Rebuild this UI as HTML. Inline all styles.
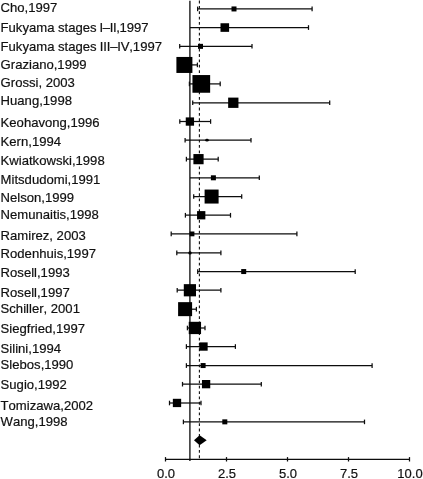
<!DOCTYPE html>
<html><head><meta charset="utf-8"><title>Forest plot</title>
<style>
html,body{margin:0;padding:0;background:#fff;}
svg{display:block;}
text{font-kerning:none;font-family:"Liberation Sans",Arial,Helvetica,sans-serif;fill:#111;stroke:#111;stroke-width:0.2px;}
.lab{font-size:13.1px;}
.ax{font-size:13px;}
</style></head><body>
<svg width="423" height="479" viewBox="0 0 423 479">
<rect width="423" height="479" fill="#fff"/>

<text class="lab" x="0.6" y="12.0">Cho,1997</text>
<text class="lab" x="0.6" y="31.8">Fukyama stages <tspan dx="-0.7" letter-spacing="-0.4">I–II,</tspan>1997</text>
<text class="lab" x="0.6" y="50.9">Fukyama stages <tspan dx="-0.6" letter-spacing="-0.15">III–IV,</tspan>1997</text>
<text class="lab" x="0.6" y="69.2">Graziano,1999</text>
<text class="lab" x="0.6" y="87.2">Grossi, 2003</text>
<text class="lab" x="0.6" y="105.3">Huang,1998</text>
<text class="lab" x="0.6" y="126.8">Keohavong,1996</text>
<text class="lab" x="0.6" y="145.9">Kern,1994</text>
<text class="lab" x="0.6" y="165.2">Kwiatkowski,1998</text>
<text class="lab" x="0.6" y="183.9">Mitsdudomi,1991</text>
<text class="lab" x="0.6" y="201.7">Nelson,1999</text>
<text class="lab" x="0.6" y="219.3">Nemunaitis,1998</text>
<text class="lab" x="0.6" y="239.6">Ramirez, 2003</text>
<text class="lab" x="0.6" y="258.1">Rodenhuis,1997</text>
<text class="lab" x="0.6" y="276.7">Rosell,1993</text>
<text class="lab" x="0.6" y="296.7">Rosell,1997</text>
<text class="lab" x="0.6" y="313.0">Schiller, 2001</text>
<text class="lab" x="0.6" y="332.8">Siegfried,1997</text>
<text class="lab" x="0.6" y="352.8">Silini,1994</text>
<text class="lab" x="0.6" y="368.6">Slebos,1990</text>
<text class="lab" x="0.6" y="388.7">Sugio,1992</text>
<text class="lab" x="0.6" y="409.7">Tomizawa,2002</text>
<text class="lab" x="0.6" y="425.5">Wang,1998</text>
<line x1="189.9" y1="0.8" x2="189.9" y2="461" stroke="#2a2a2a" stroke-width="1.5"/>
<line x1="199.4" y1="0.6" x2="199.4" y2="459.3" stroke="#111" stroke-width="1.1" stroke-dasharray="2.8,2.55"/>
<line x1="197.6" y1="8.9" x2="312.1" y2="8.9" stroke="#0d0d0d" stroke-width="1.25"/>
<line x1="197.6" y1="6.6" x2="197.6" y2="11.2" stroke="#0d0d0d" stroke-width="1.25"/>
<line x1="312.1" y1="6.6" x2="312.1" y2="11.2" stroke="#0d0d0d" stroke-width="1.25"/>
<rect x="231.50" y="6.45" width="5.0" height="5.0" fill="#000"/>
<line x1="190.0" y1="27.6" x2="308.5" y2="27.6" stroke="#0d0d0d" stroke-width="1.25"/>
<line x1="308.5" y1="25.2" x2="308.5" y2="29.9" stroke="#0d0d0d" stroke-width="1.25"/>
<rect x="220.50" y="23.25" width="8.6" height="8.6" fill="#000"/>
<line x1="179.7" y1="46.4" x2="252.0" y2="46.4" stroke="#0d0d0d" stroke-width="1.25"/>
<line x1="179.7" y1="44.1" x2="179.7" y2="48.6" stroke="#0d0d0d" stroke-width="1.25"/>
<line x1="252.0" y1="44.1" x2="252.0" y2="48.6" stroke="#0d0d0d" stroke-width="1.25"/>
<rect x="198.00" y="43.85" width="5.0" height="5.0" fill="#000"/>
<line x1="180.0" y1="64.9" x2="197.4" y2="64.9" stroke="#0d0d0d" stroke-width="1.25"/>
<line x1="197.4" y1="62.6" x2="197.4" y2="67.2" stroke="#0d0d0d" stroke-width="1.25"/>
<rect x="176.40" y="56.95" width="16.0" height="16.0" fill="#000"/>
<line x1="189.4" y1="83.9" x2="220.2" y2="83.9" stroke="#0d0d0d" stroke-width="1.25"/>
<line x1="189.4" y1="81.6" x2="189.4" y2="86.2" stroke="#0d0d0d" stroke-width="1.25"/>
<line x1="220.2" y1="81.6" x2="220.2" y2="86.2" stroke="#0d0d0d" stroke-width="1.25"/>
<rect x="192.45" y="75.05" width="17.7" height="17.7" fill="#000"/>
<line x1="192.7" y1="102.8" x2="329.7" y2="102.8" stroke="#0d0d0d" stroke-width="1.25"/>
<line x1="192.7" y1="100.5" x2="192.7" y2="105.0" stroke="#0d0d0d" stroke-width="1.25"/>
<line x1="329.7" y1="100.5" x2="329.7" y2="105.0" stroke="#0d0d0d" stroke-width="1.25"/>
<rect x="228.15" y="97.60" width="10.3" height="10.3" fill="#000"/>
<line x1="179.8" y1="121.5" x2="210.6" y2="121.5" stroke="#0d0d0d" stroke-width="1.25"/>
<line x1="179.8" y1="119.2" x2="179.8" y2="123.8" stroke="#0d0d0d" stroke-width="1.25"/>
<line x1="210.6" y1="119.2" x2="210.6" y2="123.8" stroke="#0d0d0d" stroke-width="1.25"/>
<rect x="185.75" y="117.40" width="8.3" height="8.3" fill="#000"/>
<line x1="185.1" y1="140.2" x2="251.0" y2="140.2" stroke="#0d0d0d" stroke-width="1.25"/>
<line x1="185.1" y1="137.9" x2="185.1" y2="142.6" stroke="#0d0d0d" stroke-width="1.25"/>
<line x1="251.0" y1="137.9" x2="251.0" y2="142.6" stroke="#0d0d0d" stroke-width="1.25"/>
<ellipse cx="207.0" cy="140.2" rx="1.80" ry="1.40" fill="#000"/>
<line x1="186.4" y1="159.2" x2="218.2" y2="159.2" stroke="#0d0d0d" stroke-width="1.25"/>
<line x1="186.4" y1="156.8" x2="186.4" y2="161.5" stroke="#0d0d0d" stroke-width="1.25"/>
<line x1="218.2" y1="156.8" x2="218.2" y2="161.5" stroke="#0d0d0d" stroke-width="1.25"/>
<rect x="193.40" y="154.05" width="10.2" height="10.2" fill="#000"/>
<line x1="190.0" y1="177.8" x2="259.3" y2="177.8" stroke="#0d0d0d" stroke-width="1.25"/>
<line x1="259.3" y1="175.5" x2="259.3" y2="180.1" stroke="#0d0d0d" stroke-width="1.25"/>
<rect x="210.90" y="175.30" width="5.0" height="5.0" fill="#000"/>
<line x1="193.7" y1="196.5" x2="241.7" y2="196.5" stroke="#0d0d0d" stroke-width="1.25"/>
<line x1="193.7" y1="194.2" x2="193.7" y2="198.8" stroke="#0d0d0d" stroke-width="1.25"/>
<line x1="241.7" y1="194.2" x2="241.7" y2="198.8" stroke="#0d0d0d" stroke-width="1.25"/>
<rect x="204.60" y="189.55" width="14.0" height="14.0" fill="#000"/>
<line x1="185.4" y1="215.2" x2="230.5" y2="215.2" stroke="#0d0d0d" stroke-width="1.25"/>
<line x1="185.4" y1="212.9" x2="185.4" y2="217.6" stroke="#0d0d0d" stroke-width="1.25"/>
<line x1="230.5" y1="212.9" x2="230.5" y2="217.6" stroke="#0d0d0d" stroke-width="1.25"/>
<rect x="197.05" y="211.10" width="8.3" height="8.3" fill="#000"/>
<line x1="171.2" y1="233.9" x2="296.9" y2="233.9" stroke="#0d0d0d" stroke-width="1.25"/>
<line x1="171.2" y1="231.6" x2="171.2" y2="236.2" stroke="#0d0d0d" stroke-width="1.25"/>
<line x1="296.9" y1="231.6" x2="296.9" y2="236.2" stroke="#0d0d0d" stroke-width="1.25"/>
<rect x="189.60" y="231.50" width="4.8" height="4.8" fill="#000"/>
<line x1="176.8" y1="252.9" x2="220.9" y2="252.9" stroke="#0d0d0d" stroke-width="1.25"/>
<line x1="176.8" y1="250.6" x2="176.8" y2="255.2" stroke="#0d0d0d" stroke-width="1.25"/>
<line x1="220.9" y1="250.6" x2="220.9" y2="255.2" stroke="#0d0d0d" stroke-width="1.25"/>
<ellipse cx="190.0" cy="252.9" rx="1.70" ry="1.70" fill="#000"/>
<line x1="197.7" y1="271.6" x2="355.2" y2="271.6" stroke="#0d0d0d" stroke-width="1.25"/>
<line x1="197.7" y1="269.2" x2="197.7" y2="273.9" stroke="#0d0d0d" stroke-width="1.25"/>
<line x1="355.2" y1="269.2" x2="355.2" y2="273.9" stroke="#0d0d0d" stroke-width="1.25"/>
<rect x="241.20" y="269.05" width="5.0" height="5.0" fill="#000"/>
<line x1="177.2" y1="290.2" x2="220.9" y2="290.2" stroke="#0d0d0d" stroke-width="1.25"/>
<line x1="177.2" y1="287.9" x2="177.2" y2="292.6" stroke="#0d0d0d" stroke-width="1.25"/>
<line x1="220.9" y1="287.9" x2="220.9" y2="292.6" stroke="#0d0d0d" stroke-width="1.25"/>
<rect x="183.80" y="284.15" width="12.2" height="12.2" fill="#000"/>
<line x1="182.0" y1="309.2" x2="196.4" y2="309.2" stroke="#0d0d0d" stroke-width="1.25"/>
<line x1="196.4" y1="306.9" x2="196.4" y2="311.5" stroke="#0d0d0d" stroke-width="1.25"/>
<rect x="178.10" y="302.15" width="14.0" height="14.0" fill="#000"/>
<line x1="187.4" y1="328.0" x2="205.0" y2="328.0" stroke="#0d0d0d" stroke-width="1.25"/>
<line x1="187.4" y1="325.7" x2="187.4" y2="330.3" stroke="#0d0d0d" stroke-width="1.25"/>
<line x1="205.0" y1="325.7" x2="205.0" y2="330.3" stroke="#0d0d0d" stroke-width="1.25"/>
<rect x="188.75" y="321.80" width="12.3" height="12.3" fill="#000"/>
<line x1="186.4" y1="346.6" x2="235.4" y2="346.6" stroke="#0d0d0d" stroke-width="1.25"/>
<line x1="186.4" y1="344.2" x2="186.4" y2="348.9" stroke="#0d0d0d" stroke-width="1.25"/>
<line x1="235.4" y1="344.2" x2="235.4" y2="348.9" stroke="#0d0d0d" stroke-width="1.25"/>
<rect x="199.35" y="342.40" width="8.3" height="8.3" fill="#000"/>
<line x1="186.4" y1="365.6" x2="372.1" y2="365.6" stroke="#0d0d0d" stroke-width="1.25"/>
<line x1="186.4" y1="363.2" x2="186.4" y2="367.9" stroke="#0d0d0d" stroke-width="1.25"/>
<line x1="372.1" y1="363.2" x2="372.1" y2="367.9" stroke="#0d0d0d" stroke-width="1.25"/>
<rect x="200.60" y="363.05" width="5.0" height="5.0" fill="#000"/>
<line x1="182.5" y1="384.2" x2="261.3" y2="384.2" stroke="#0d0d0d" stroke-width="1.25"/>
<line x1="182.5" y1="381.9" x2="182.5" y2="386.5" stroke="#0d0d0d" stroke-width="1.25"/>
<line x1="261.3" y1="381.9" x2="261.3" y2="386.5" stroke="#0d0d0d" stroke-width="1.25"/>
<rect x="201.95" y="380.00" width="8.3" height="8.3" fill="#000"/>
<line x1="169.5" y1="403.0" x2="201.0" y2="403.0" stroke="#0d0d0d" stroke-width="1.25"/>
<line x1="169.5" y1="400.7" x2="169.5" y2="405.3" stroke="#0d0d0d" stroke-width="1.25"/>
<line x1="201.0" y1="400.7" x2="201.0" y2="405.3" stroke="#0d0d0d" stroke-width="1.25"/>
<rect x="172.85" y="398.80" width="8.3" height="8.3" fill="#000"/>
<line x1="183.4" y1="421.9" x2="364.5" y2="421.9" stroke="#0d0d0d" stroke-width="1.25"/>
<line x1="183.4" y1="419.6" x2="183.4" y2="424.2" stroke="#0d0d0d" stroke-width="1.25"/>
<line x1="364.5" y1="419.6" x2="364.5" y2="424.2" stroke="#0d0d0d" stroke-width="1.25"/>
<rect x="222.30" y="419.35" width="5.0" height="5.0" fill="#000"/>
<polygon points="194.0,440.3 199.6,435.2 206.7,440.3 199.6,445.3" fill="#000"/>
<line x1="165.5" y1="459.3" x2="409.5" y2="459.3" stroke="#0d0d0d" stroke-width="1.25"/>
<line x1="165.5" y1="457.1" x2="165.5" y2="461.5" stroke="#0d0d0d" stroke-width="1.25"/>
<text class="ax" x="166.0" y="477.8" text-anchor="middle">0.0</text>
<line x1="226.5" y1="457.1" x2="226.5" y2="461.5" stroke="#0d0d0d" stroke-width="1.25"/>
<text class="ax" x="227.0" y="477.8" text-anchor="middle">2.5</text>
<line x1="287.5" y1="457.1" x2="287.5" y2="461.5" stroke="#0d0d0d" stroke-width="1.25"/>
<text class="ax" x="288.0" y="477.8" text-anchor="middle">5.0</text>
<line x1="348.5" y1="457.1" x2="348.5" y2="461.5" stroke="#0d0d0d" stroke-width="1.25"/>
<text class="ax" x="349.0" y="477.8" text-anchor="middle">7.5</text>
<line x1="409.5" y1="457.1" x2="409.5" y2="461.5" stroke="#0d0d0d" stroke-width="1.25"/>
<text class="ax" x="410.0" y="477.8" text-anchor="middle">10.0</text>
</svg></body></html>
